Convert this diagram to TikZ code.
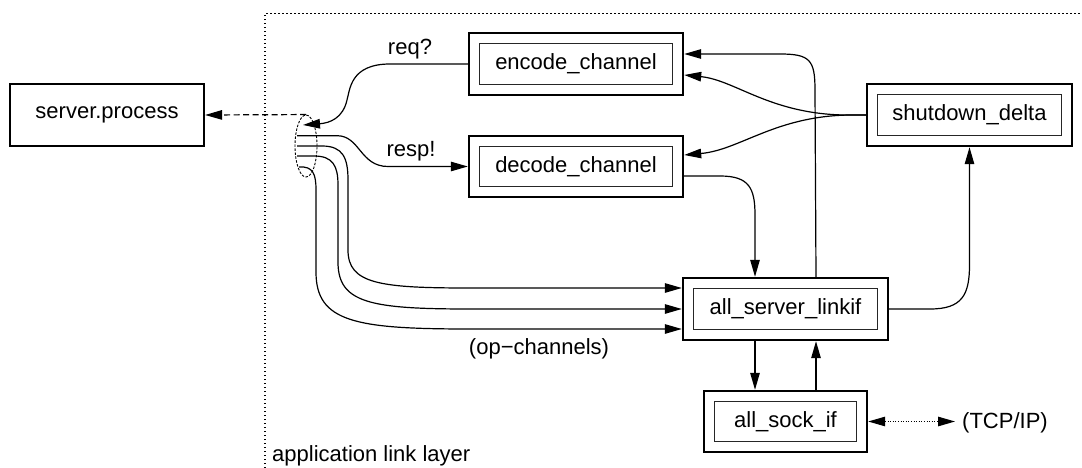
\documentclass[tikz,border=0pt]{standalone}
\usepackage{fontspec}
\setmainfont{Liberation Sans}
\usetikzlibrary{arrows.meta,shapes.geometric,calc}
\tikzset{
  lbl/.style={font=\fontsize{22}{26}\selectfont, inner sep=0pt},
  conn/.style={line width=1.2pt, ->},
  srvbox/.style={draw, line width=2.2pt, font=\fontsize{22}{26}\selectfont, inner sep=0pt},
  dbox/.style={draw, line width=2.4pt, font=\fontsize{22}{26}\selectfont, inner sep=0pt,
    path picture={\draw[line width=1.1pt, black!85]
      ([shift={(10.5pt,-10.5pt)}]path picture bounding box.north west) rectangle
      ([shift={(-10.5pt,10.5pt)}]path picture bounding box.south east);}},
  framelayer/.style={line width=1.3pt, dash pattern=on 1.3pt off 2.7pt},
  bundlestyle/.style={draw, ellipse, line width=0.9pt, dash pattern=on 2.5pt off 1.5pt,
    minimum width=22pt, minimum height=62pt, inner sep=0pt}
}
\begin{document}
\begin{tikzpicture}[x=1pt,y=-1pt,>={Triangle[length=17pt,width=9.5pt]}]
\useasboundingbox (0,0) rectangle (1082,468);

% frame of the application link layer
\draw[framelayer] (265,468) -- (265,13.3) -- (1082,13.3);

% nodes
\node[srvbox, minimum width=194pt, minimum height=62pt] (srv) at (107,115) {server.process};
\node[dbox, minimum width=214pt, minimum height=62pt] (enc) at (576,64) {encode\_channel};
\node[dbox, minimum width=214pt, minimum height=61pt] (dec) at (576,166.5) {decode\_channel};
\node[dbox, minimum width=205pt, minimum height=62pt] (sd) at (969.5,115) {shutdown\_delta};
\node[dbox, minimum width=205pt, minimum height=62pt] (asl) at (785.5,309) {all\_server\_linkif};
\node[dbox, minimum width=163pt, minimum height=61pt] (sock) at (785.5,421.5) {all\_sock\_if};
\node[bundlestyle] (bundle) at (306,146) {};

% labels
\node[lbl, anchor=base] (reql) at (410,55) {req?};
\node[lbl, anchor=base] (respl) at (411,157) {resp!};
\node[lbl, anchor=base] (opl) at (539,354) {(op−channels)};
\node[lbl, anchor=base west] (tcp) at (962,428) {(TCP/IP)};
\node[lbl, anchor=base west] (layer) at (272,461) {application link layer};

% free ends inside the bundle
\coordinate (reqend) at (303,125);
\coordinate (rs) at (297,135.7);
\coordinate (oa) at (297,146);
\coordinate (ob) at (297,156);
\coordinate (oc) at (299,167);

% bundle to server.process
\draw[conn, dash pattern=on 6pt off 3.5pt] (bundle.north) -- (srv.east);

% req? and resp!
\draw[conn] (enc.west) -- (390,64) .. controls (350,64) and (350,90) .. (347,100)
  .. controls (343,118) and (330,123) .. (reqend);
\draw[conn] (rs) -- (337,135.7) .. controls (360,135.7) and (360,166.5) .. (388,166.5) -- (dec.west);

% op-channels
\draw[conn] (oa) -- (322,146) .. controls (343,146) and (348,158) .. (348,180) -- (348,250)
  .. controls (348,284) and (380,288) .. (470,288) -- ($(asl.west)+(0,-21)$);
\draw[conn] (ob) -- (314,156) .. controls (333,156) and (338,166) .. (338,185) -- (338,262)
  .. controls (338,303) and (370,309) .. (470,309) -- (asl.west);
\draw[conn] (oc) .. controls (313,166) and (316,174) .. (316,190) -- (316,272)
  .. controls (316,322) and (355,329) .. (470,329) -- ($(asl.west)+(0,20)$);

% shutdown_delta to encode / decode
\draw[conn] (sd.west) -- (845,115) .. controls (770,114) and (735,80) .. ($(enc.east)+(0,11)$);
\draw[conn] (sd.west) -- (850,115) .. controls (775,116) and (740,150) .. ($(dec.east)+(0,-11.5)$);

% all_server_linkif up to encode
\draw[conn] ($(asl.north)+(30.5,0)$) -- (815,90) .. controls (815,60) and (810,54) .. (780,54)
  -- ($(enc.east)+(0,-10)$);

% decode down to all_server_linkif
\draw[conn] ($(dec.east)+(0,9.5)$) -- (720,176) .. controls (749,176) and (755,188) .. (755,215)
  -- ($(asl.north)+(-30.5,0)$);

% all_server_linkif to shutdown_delta
\draw[conn] (asl.east) -- (930,309) .. controls (962,309) and (969.5,295) .. (969.5,265) -- (sd.south);

% all_server_linkif <-> all_sock_if
\draw[conn] ($(asl.south)+(-30.5,0)$) -- ($(sock.north)+(-30.5,0)$);
\draw[conn] ($(sock.north)+(30.5,0)$) -- ($(asl.south)+(30.5,0)$);

% TCP/IP
\draw[line width=1.1pt, dash pattern=on 1pt off 1.6pt, <->, shorten >=7pt]
  (sock.east) -- (sock.east -| tcp.west);
\end{tikzpicture}
\end{document}
